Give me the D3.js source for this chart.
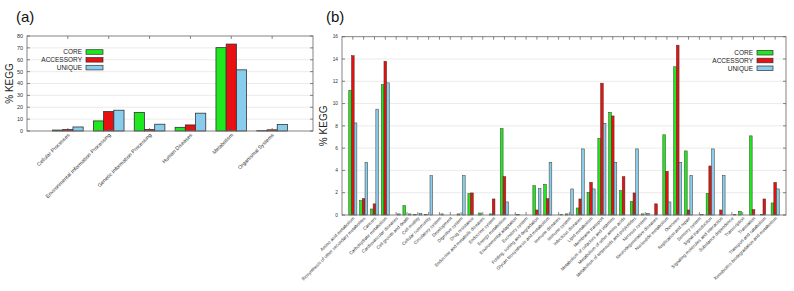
<!DOCTYPE html>
<html>
<head>
<meta charset="utf-8">
<script src="https://cdn.jsdelivr.net/npm/d3@7"></script>
<style>
  body { margin: 0; background: #fff; }
  svg { display: block; font-family: "Liberation Sans", Arial, sans-serif; }
</style>
</head>
<body>
<svg id="fig" width="794" height="291"></svg>
<script>
const seriesNames = ["CORE", "ACCESSORY", "UNIQUE"];
const seriesColors = ["#1ee81e", "#e81010", "#88ccee"];

// panel (a)
const catsA = ["Cellular Processes", "Environmental Information Processing", "Genetic Information Processing",
  "Human Diseases", "Metabolism", "Organismal Systems"];
const coreA = [0.8, 8.5, 15.6, 3.1, 70.2, 0.3];
const accA = [1.2, 16.4, 1.2, 5.1, 73.2, 1.0];
const uniqA = [3.4, 17.5, 5.7, 15.0, 51.5, 5.4];
const ticksA = d3.range(0, 81, 10);

// panel (b)
const catsB = ["Amino acid metabolism", "Biosynthesis of other secondary metabolites", "Cancers",
  "Carbohydrate metabolism", "Cardiovascular diseases", "Cell growth and death", "Cell motility",
  "Cellular community", "Circulatory system", "Development", "Digestive system", "Drug resistance",
  "Endocrine and metabolic diseases", "Endocrine system", "Energy metabolism", "Environmental adaptation",
  "Excretory system", "Folding, sorting and degradation", "Glycan biosynthesis and metabolism",
  "Immune diseases", "Immune system", "Infectious diseases", "Lipid metabolism", "Membrane transport",
  "Metabolism of cofactors and vitamins", "Metabolism of other amino acids",
  "Metabolism of terpenoids and polyketides", "Nervous system", "Neurodegenerative diseases",
  "Nucleotide metabolism", "Overview", "Replication and repair", "Sensory system", "Signal transduction",
  "Signaling molecules and interaction", "Substance dependence", "Transcription", "Translation",
  "Transport and catabolism", "Xenobiotics biodegradation and metabolism"];
const coreB = [11.2, 1.29, 0.54, 11.7, 0, 0.84, 0.05, 0.05, 0, 0, 0.1, 1.92, 0.18, 0.1, 7.75, 0, 0,
  2.63, 2.75, 0, 0.1, 0.63, 2.04, 6.89, 9.22, 2.19, 1.2, 0.1, 0, 7.2, 13.3, 5.75, 0, 1.92, 0, 0,
  0.33, 7.1, 0.05, 1.08];
const accB = [14.3, 1.47, 1.0, 13.8, 0, 0, 0, 0, 0, 0, 0, 1.98, 0, 1.44, 3.44, 0, 0,
  0.45, 1.47, 0, 0, 1.44, 2.93, 11.83, 8.89, 3.44, 1.98, 0, 1.0, 3.92, 15.24, 0.45, 0, 4.4, 0.45, 0,
  0, 0.48, 1.44, 2.93];
const uniqB = [8.26, 4.73, 9.5, 11.86, 0.1, 0.1, 0.12, 3.53, 0.1, 0, 3.53, 0, 0, 0, 1.17, 0.05, 0,
  2.37, 4.73, 0.05, 2.34, 5.93, 2.34, 8.23, 4.73, 0, 5.93, 0.15, 0, 1.17, 4.73, 3.56, 0.05, 5.93, 3.56, 0.05,
  0, 0, 0, 2.34];
const ticksB = d3.range(0, 17, 2);

const svg = d3.select("#fig");

function drawPanel(cfg) {
  const { left, right, top, bottom, cats, values, yMax, ticks } = cfg;
  const g = svg.append("g");

  const x = d3.scaleLinear().domain([-1, cats.length]).range([left, right]);
  const y = d3.scaleLinear().domain([0, yMax]).range([bottom, top]);
  const unit = x(1) - x(0);
  const sub = d3.scaleBand().domain(seriesNames).range([-0.375 * unit, 0.375 * unit]);

  // grid
  g.selectAll(".grid").data(ticks.slice(1, -1)).enter().append("line")
    .attr("x1", left).attr("x2", right)
    .attr("y1", d => y(d)).attr("y2", d => y(d))
    .attr("stroke", "#e6e6e6").attr("stroke-width", 0.8);

  // bars
  const rows = [];
  cats.forEach((c, i) => seriesNames.forEach((s, j) => rows.push({ i, s, j, v: values[j][i] })));
  g.selectAll(".bar").data(rows.filter(d => d.v > 0)).enter().append("rect")
    .attr("x", d => x(d.i) + sub(d.s))
    .attr("y", d => y(d.v))
    .attr("width", sub.bandwidth())
    .attr("height", d => y(0) - y(d.v))
    .attr("fill", d => seriesColors[d.j])
    .attr("stroke", cfg.barStroke)
    .attr("stroke-width", cfg.barStrokeWidth);

  // frame
  g.append("rect")
    .attr("x", left).attr("y", top)
    .attr("width", right - left).attr("height", bottom - top)
    .attr("fill", "none").attr("stroke", "#777").attr("stroke-width", 0.9);

  // y ticks, both sides, inward
  ticks.forEach(t => {
    g.append("line").attr("x1", left).attr("x2", left + 3)
      .attr("y1", y(t)).attr("y2", y(t)).attr("stroke", "#555").attr("stroke-width", 0.7);
    g.append("line").attr("x1", right).attr("x2", right - 3)
      .attr("y1", y(t)).attr("y2", y(t)).attr("stroke", "#555").attr("stroke-width", 0.7);
  });
  g.selectAll(".ytl").data(ticks).enter().append("text")
    .attr("x", left - 4).attr("y", d => y(d))
    .attr("dy", "0.35em")
    .attr("text-anchor", "end")
    .style("font-size", cfg.tickFont + "px")
    .style("fill", "#333")
    .text(d => d);

  // x ticks, top and bottom, inward
  cats.forEach((c, i) => {
    g.append("line").attr("x1", x(i)).attr("x2", x(i))
      .attr("y1", top).attr("y2", top + 3).attr("stroke", "#555").attr("stroke-width", 0.7);
    g.append("line").attr("x1", x(i)).attr("x2", x(i))
      .attr("y1", bottom).attr("y2", bottom - 3).attr("stroke", "#555").attr("stroke-width", 0.7);
  });
  g.selectAll(".xtl").data(cats).enter().append("text")
    .attr("transform", (d, i) => `translate(${x(i) + 1},${bottom + cfg.labelGap}) rotate(-45)`)
    .attr("text-anchor", "end")
    .attr("dy", "0.35em")
    .style("font-size", cfg.catFont + "px")
    .style("fill", "#333")
    .text(d => d);

  // y label
  g.append("text")
    .attr("transform", `translate(${cfg.yLabelX},${(top + bottom) / 2}) rotate(-90)`)
    .attr("text-anchor", "middle")
    .style("font-size", "10px")
    .style("fill", "#222")
    .text("% KEGG");

  // panel title
  g.append("text")
    .attr("x", cfg.titleX).attr("y", 22)
    .style("font-size", "15px")
    .style("fill", "#111")
    .text(cfg.title);

  // legend
  const lg = g.append("g");
  seriesNames.forEach((s, j) => {
    const ly = cfg.legendY + j * 7.8;
    lg.append("text")
      .attr("x", cfg.legendX - 4).attr("y", ly)
      .attr("dy", "0.35em")
      .attr("text-anchor", "end")
      .style("font-size", "6.5px")
      .style("fill", "#222")
      .text(s);
    lg.append("rect")
      .attr("x", cfg.legendX).attr("y", ly - 2.3)
      .attr("width", cfg.legendW).attr("height", 4.6)
      .attr("fill", seriesColors[j])
      .attr("stroke", "#333").attr("stroke-width", 0.7);
  });
}

drawPanel({
  left: 27, right: 313, top: 36, bottom: 131,
  cats: catsA, values: [coreA, accA, uniqA], yMax: 80, ticks: ticksA,
  barStroke: "#333", barStrokeWidth: 0.8,
  tickFont: 5.5, catFont: 5.3, labelGap: 3,
  yLabelX: 13, title: "(a)", titleX: 16,
  legendX: 86, legendY: 52, legendW: 17
});

drawPanel({
  left: 342, right: 786, top: 36.7, bottom: 215,
  cats: catsB, values: [coreB, accB, uniqB], yMax: 16, ticks: ticksB,
  barStroke: "#3a3a2a", barStrokeWidth: 0.5,
  tickFont: 4.8, catFont: 4.5, labelGap: 2.5,
  yLabelX: 327, title: "(b)", titleX: 326,
  legendX: 757, legendY: 52.7, legendW: 16
});
</script>
</body>
</html>
